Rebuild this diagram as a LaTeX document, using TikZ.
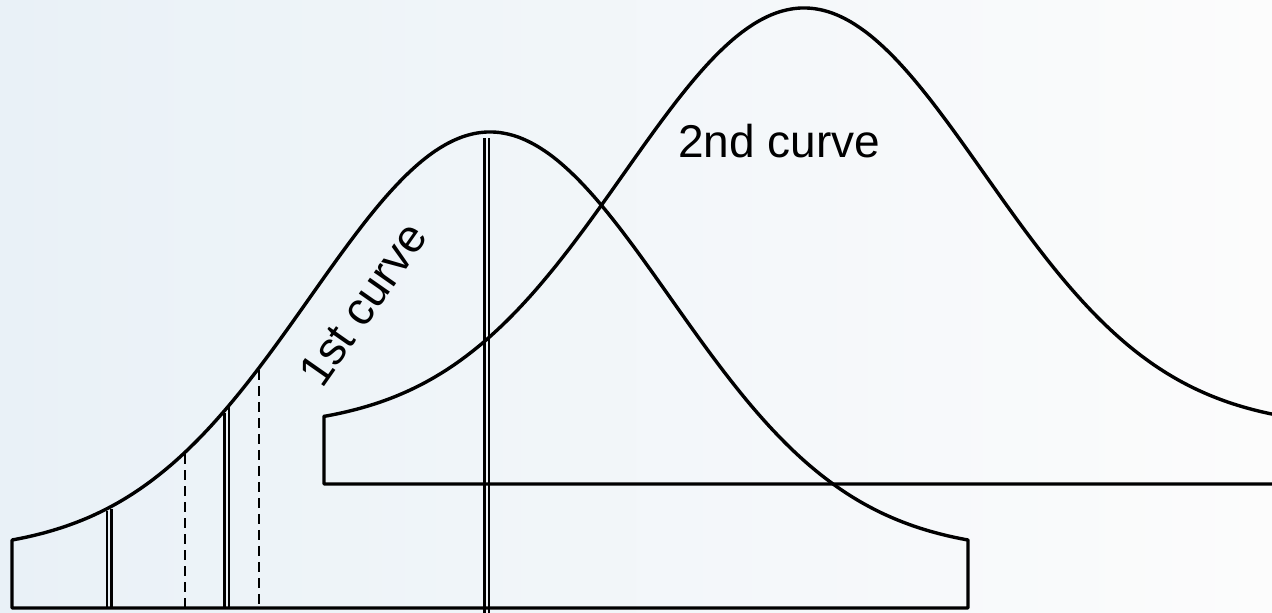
\documentclass[tikz,border=0pt]{standalone}
\usepackage{fontspec}
\setmainfont{Liberation Sans}
\definecolor{bgl}{RGB}{233,241,247}
\definecolor{bgm}{RGB}{244,247,250}
\definecolor{bgr}{RGB}{252,252,252}
\begin{document}
\begin{tikzpicture}[x=1pt,y=-1pt,
  declare function={g(\d)=408*(exp(-\d*\d/6.48)-0.0294)/0.9706;},
  curve/.style={line width=3.4pt, line join=round},
  dbl/.style={line width=2.2pt},
  dsh/.style={line width=2.4pt, dash pattern=on 10pt off 6pt},
  lbl/.style={font=\fontsize{46}{54}\selectfont, inner sep=0pt}]
\useasboundingbox (0,0) rectangle (1272,613);
\clip (0,0) rectangle (1272,613);
\shade[left color=bgl, middle color=bgm, right color=bgr] (0,0) rectangle (1272,613);
% first curve
\draw[curve] (12,608) -- (12,540)
  -- plot[domain=-4.78:4.78, samples=150, smooth] ({490+100*\x},{540-g(\x)})
  -- (968,540) -- (968,608) -- cycle;
% second curve
\draw[curve] (324,484) -- (324,416)
  -- plot[domain=-4.80:4.78, samples=150, smooth] ({804+100*\x},{416-g(\x)})
  -- (1282,416) -- (1282,484) -- cycle;
% vertical lines
\draw[dbl] (484.5,138) -- (484.5,613);
\draw[dbl] (489,138) -- (489,613);
\draw[dbl] (107,{542-g(-3.83)}) -- (107,608);
\draw[dbl] (111.5,{542-g(-3.79)}) -- (111.5,608);
\draw[dbl] (224.5,{542-g(-2.66)}) -- (224.5,608);
\draw[dbl] (229,{542-g(-2.61)}) -- (229,608);
\draw[dsh] (185,{542-g(-3.05)}) -- (185,608);
\draw[dsh] (259,{542-g(-2.31)}) -- (259,608);
% labels
\node[lbl, anchor=base] (t2) at (779,157) {2nd curve};
\node[lbl, rotate=55, anchor=base west] (t1) at (322,390) {1st curve};
\end{tikzpicture}
\end{document}
